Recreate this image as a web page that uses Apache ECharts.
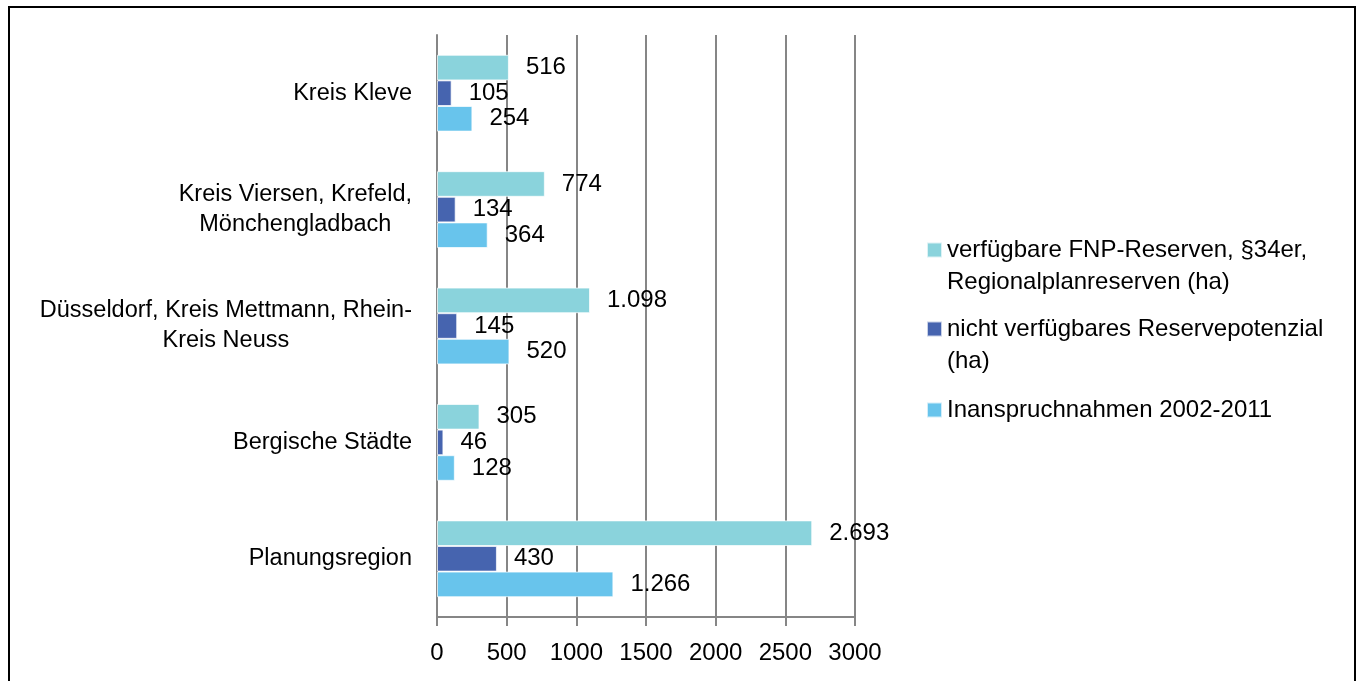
<!DOCTYPE html>
<html>
<head>
<meta charset="utf-8">
<script src="https://cdn.jsdelivr.net/npm/echarts@6/dist/echarts.min.js"></script>
<style>
  html, body { margin: 0; padding: 0; background: #fff; }
  #frame { position: absolute; left: 8px; top: 6px; width: 1344px; height: 720px; border: 2.5px solid #000; }
  #chart { position: absolute; left: 0; top: 0; width: 1361px; height: 681px; }
</style>
</head>
<body>
<div id="frame"></div>
<div id="chart"></div>
<script>
// Regions, listed bottom to top along the category axis
const categories = [
  'Planungsregion',
  'Bergische Städte',
  'Düsseldorf, Kreis Mettmann, Rhein-\nKreis Neuss',
  'Kreis Viersen, Krefeld,\nMönchengladbach',
  'Kreis Kleve'
];

const seriesNames = [
  'verfügbare FNP-Reserven, §34er, Regionalplanreserven (ha)',
  'nicht verfügbares Reservepotenzial (ha)',
  'Inanspruchnahmen 2002-2011'
];

// Legend wording, wrapped as shown
const legendLines = [
  ['verfügbare FNP-Reserven, §34er,', 'Regionalplanreserven (ha)'],
  ['nicht verfügbares Reservepotenzial', '(ha)'],
  ['Inanspruchnahmen 2002-2011']
];

// Values in ha, same order as categories
const verfuegbar = [2693, 305, 1098, 774, 516];
const nichtVerfuegbar = [430, 46, 145, 134, 105];
const inanspruchnahmen = [1266, 128, 520, 364, 254];

const xTicks = { min: 0, max: 3000, interval: 500 };

const colors = {
  verfuegbar: '#8AD3DC',
  nicht: '#4664AF',
  inanspruch: '#68C4EC'
};

const FONT = "'Liberation Sans', Arial, sans-serif";
const catFontSize = 23.5;
const numFontSize = 24;
const gray = '#868686';

// German thousands separator
function fmt(v) {
  return String(v).replace(/\B(?=(\d{3})+(?!\d))/g, '.');
}

// Multi-line category labels: lines centred on each other, block right-aligned
const measureCtx = document.createElement('canvas').getContext('2d');
measureCtx.font = catFontSize + 'px ' + FONT;
const yData = categories.map(function (c) {
  if (c.indexOf('\n') < 0) return c;
  const w = Math.max.apply(null, c.split('\n').map(function (l) { return measureCtx.measureText(l).width; }));
  return { value: c, textStyle: { align: 'center', padding: [0, w, 0, 0] } };
});

function barSeries(name, data, color) {
  return {
    name: name,
    type: 'bar',
    data: data,
    barGap: '0%',
    barCategoryGap: '34%',
    itemStyle: { color: color, borderColor: 'rgba(255,255,255,0.7)', borderWidth: 1 },
    label: {
      show: true,
      position: 'right',
      distance: 17,
      color: '#000',
      fontFamily: FONT,
      fontSize: numFontSize,
      formatter: function (p) { return fmt(p.value); }
    },
    emphasis: { disabled: true }
  };
}

// One legend block per series so each marker sits beside the first text line.
// A leading blank line balances the wrapped second line around the marker.
function legendItem(idx, top) {
  const lines = legendLines[idx];
  return {
    data: [seriesNames[idx]],
    orient: 'vertical',
    left: 926,
    top: top,
    padding: 0,
    itemWidth: 15,
    itemHeight: 15,
    itemGap: 0,
    icon: 'rect',
    selectedMode: false,
    formatter: function () {
      return lines.length > 1 ? '\n' + lines.join('\n') : lines[0];
    },
    textStyle: {
      color: '#000',
      fontFamily: FONT,
      fontSize: numFontSize,
      lineHeight: 32
    }
  };
}

const chart = echarts.init(document.getElementById('chart'), null, { renderer: 'canvas' });
chart.setOption({
  animation: false,
  backgroundColor: 'transparent',
  grid: { left: 437, top: 35, width: 418, height: 582, containLabel: false },
  legend: [
    legendItem(0, 202),
    legendItem(1, 281),
    legendItem(2, 394)
  ],
  xAxis: {
    type: 'value',
    min: xTicks.min,
    max: xTicks.max,
    interval: xTicks.interval,
    axisLine: { show: true, lineStyle: { color: gray, width: 2 } },
    axisTick: { show: true, length: 9, lineStyle: { color: gray, width: 2 } },
    splitLine: { show: true, lineStyle: { color: gray, width: 2 } },
    axisLabel: {
      color: '#000', fontFamily: FONT, fontSize: numFontSize, margin: 24,
      formatter: function (v) { return String(v); }
    }
  },
  yAxis: {
    type: 'category',
    data: yData,
    axisLine: { show: true, lineStyle: { color: gray, width: 2 } },
    axisTick: { show: false },
    splitLine: { show: false },
    axisLabel: {
      color: '#000',
      fontFamily: FONT,
      fontSize: catFontSize,
      lineHeight: 30,
      margin: 25,
      interval: 0
    }
  },
  series: [
    barSeries(seriesNames[0], verfuegbar, colors.verfuegbar),
    barSeries(seriesNames[1], nichtVerfuegbar, colors.nicht),
    barSeries(seriesNames[2], inanspruchnahmen, colors.inanspruch)
  ]
});
</script>
</body>
</html>
